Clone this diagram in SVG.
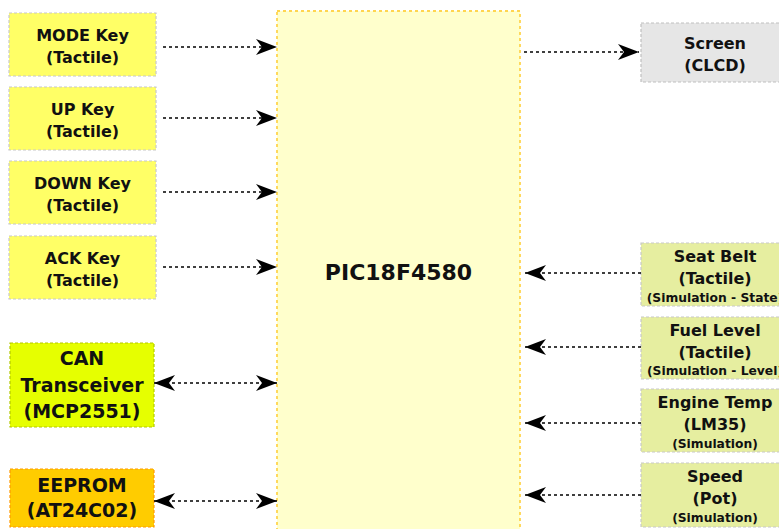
<svg xmlns="http://www.w3.org/2000/svg" width="779" height="529" viewBox="0 0 779 529">
<style>
text{font-family:"DejaVu Sans","Liberation Sans",sans-serif;font-weight:bold;fill:#111;text-anchor:middle}
.k{fill:#ffff66;stroke:#c8c8c8;stroke-width:1.2;stroke-dasharray:3 2}
.s{fill:#e6eea0;stroke:#c8c8c8;stroke-width:1.2;stroke-dasharray:3 2}
.t16{font-size:16px}
.t12{font-size:12.3px}
.t19{font-size:19px}
.c{fill:none;stroke:#000;stroke-width:1.5;stroke-dasharray:3 3}
</style>
<defs>
<marker id="ah" markerUnits="userSpaceOnUse" markerWidth="24" markerHeight="18" viewBox="-22 -9 24 18" refX="0" refY="0" orient="auto-start-reverse">
<path d="M0,0 L-21,-8 L-15,0 L-21,8 Z" fill="#000"/>
</marker>
</defs>
<g id="mcu">
<rect x="277" y="11" width="243" height="530" fill="#ffffcc" stroke="#ffd54f" stroke-width="1.8" stroke-dasharray="3 3"/>
<text x="398.5" y="280" style="font-size:22px">PIC18F4580</text>
</g>
<g id="mode">
<rect class="k" x="9" y="13" width="147" height="63"/>
<text class="t16" x="82.5" y="41">MODE Key</text>
<text class="t16" x="82.5" y="63">(Tactile)</text>
</g>
<g id="up">
<rect class="k" x="9" y="87" width="147" height="63"/>
<text class="t16" x="82.5" y="115">UP Key</text>
<text class="t16" x="82.5" y="137">(Tactile)</text>
</g>
<g id="down">
<rect class="k" x="9" y="161" width="147" height="63"/>
<text class="t16" x="82.5" y="189">DOWN Key</text>
<text class="t16" x="82.5" y="211">(Tactile)</text>
</g>
<g id="ack">
<rect class="k" x="9" y="236" width="147" height="63"/>
<text class="t16" x="82.5" y="264">ACK Key</text>
<text class="t16" x="82.5" y="286">(Tactile)</text>
</g>
<g id="can">
<rect x="10" y="343" width="144" height="84" fill="#e6ff00" stroke="#b3c800" stroke-width="1.2" stroke-dasharray="3 2"/>
<text class="t19" x="82" y="365">CAN</text>
<text class="t19" x="82" y="392">Transceiver</text>
<text class="t19" x="82" y="418">(MCP2551)</text>
</g>
<g id="eeprom">
<rect x="10" y="469" width="144" height="58" fill="#ffcc00" stroke="#ff9900" stroke-width="1.2" stroke-dasharray="3 2"/>
<text class="t19" x="82" y="492">EEPROM</text>
<text class="t19" x="82" y="517">(AT24C02)</text>
</g>
<g id="screen">
<rect x="641" y="23" width="148" height="59" fill="#e6e6e6" stroke="#c0c0c0" stroke-width="1.2" stroke-dasharray="3 2"/>
<text class="t16" x="715" y="49">Screen</text>
<text class="t16" x="715" y="71">(CLCD)</text>
</g>
<g id="seatbelt">
<rect class="s" x="641" y="243" width="148" height="63"/>
<text class="t16" x="715" y="262">Seat Belt</text>
<text class="t16" x="715" y="284">(Tactile)</text>
<text class="t12" x="715" y="302">(Simulation - State)</text>
</g>
<g id="fuel">
<rect class="s" x="641" y="317" width="148" height="62"/>
<text class="t16" x="715" y="336">Fuel Level</text>
<text class="t16" x="715" y="358">(Tactile)</text>
<text class="t12" x="715" y="375">(Simulation - Level)</text>
</g>
<g id="enginetemp">
<rect class="s" x="641" y="389" width="148" height="63"/>
<text class="t16" x="715" y="408">Engine Temp</text>
<text class="t16" x="715" y="430">(LM35)</text>
<text class="t12" x="715" y="448">(Simulation)</text>
</g>
<g id="speed">
<rect class="s" x="641" y="463" width="148" height="64"/>
<text class="t16" x="715" y="482">Speed</text>
<text class="t16" x="715" y="504">(Pot)</text>
<text class="t12" x="715" y="522">(Simulation)</text>
</g>
<g id="connectors">
<path class="c" d="M163,47 H277" marker-end="url(#ah)"/>
<path class="c" d="M163,118 H277" marker-end="url(#ah)"/>
<path class="c" d="M163,192 H277" marker-end="url(#ah)"/>
<path class="c" d="M163,267 H277" marker-end="url(#ah)"/>
<path class="c" d="M154,383 H277" marker-start="url(#ah)" marker-end="url(#ah)"/>
<path class="c" d="M154,501 H277" marker-start="url(#ah)" marker-end="url(#ah)"/>
<path class="c" d="M524,52 H639" marker-end="url(#ah)"/>
<path class="c" d="M641,273 H525" marker-end="url(#ah)"/>
<path class="c" d="M641,347 H525" marker-end="url(#ah)"/>
<path class="c" d="M641,423 H525" marker-end="url(#ah)"/>
<path class="c" d="M641,495 H525" marker-end="url(#ah)"/>
</g>
</svg>
